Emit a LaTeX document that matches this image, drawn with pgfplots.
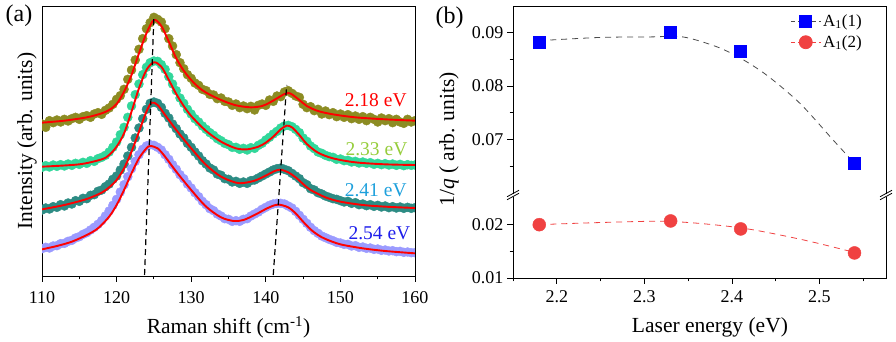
\documentclass[border=0pt]{standalone}
\usepackage{pgfplots}
\pgfplotsset{compat=1.18}
\usepackage{fontspec}
\setmainfont{Liberation Serif}
\usetikzlibrary{calc}

\definecolor{cOlive}{RGB}{140,140,35}
\definecolor{cMint}{RGB}{50,215,155}
\definecolor{cTeal}{RGB}{45,140,132}
\definecolor{cLilac}{RGB}{155,155,255}
\definecolor{tGreen}{RGB}{150,205,60}
\definecolor{tBlue}{RGB}{30,160,220}
\definecolor{tNavy}{RGB}{30,30,235}
\definecolor{ptRed}{RGB}{240,65,65}
\definecolor{fitRed}{RGB}{255,0,0}

\pgfplotsset{
  panel/.style={
    scale only axis,
    axis line style={line width=0.9pt},
    every tick/.style={black, line width=0.8pt},
    major tick length=6pt, minor tick length=3.5pt,
    tick align=outside,
    scaled ticks=false,
    tick label style={font=\fontsize{18}{20}\selectfont},
    label style={font=\fontsize{21.5}{24}\selectfont},
    /pgf/number format/assume math mode=true,
  },
  dots/.style={only marks, color=#1, mark=*, mark size=4.5pt,
    mark options={draw=none, fill=#1}},
  fitline/.style={draw=fitRed, line width=1.9pt, smooth, mark=none},
  leg/.style={legend image code/.code={
    \draw[##1, mark=none] (0pt,0pt) -- (30pt,0pt);
    \draw[##1, only marks] plot coordinates {(15pt,0pt)};}},
}

\begin{document}
\begin{tikzpicture}[x=1pt,y=1pt]
\useasboundingbox (0,0) rectangle (896,342);

% ---------- (a) spectra ----------
\begin{axis}[panel,
  clip marker paths=true,
  at={(42pt,66pt)}, anchor=south west,
  width=373pt, height=270pt,
  xmin=110, xmax=160, ymin=0, ymax=810,
  xtick={110,120,130,140,150,160},
  minor xtick={115,125,135,145,155},
  xtick pos=bottom, ytick=\empty,
  xticklabel style={yshift=-6pt},
  xlabel={Raman shift (cm\textsuperscript{-1})},
  ylabel={Intensity (arb. units)},
  xlabel style={at={(axis description cs:0.5,-0.19)}, anchor=center},
  ylabel style={at={(axis description cs:-0.04,0.5)}, anchor=center},
]
% 2.18 eV
\addplot[dots=cOlive] coordinates {
(110,456) (110.5,446) (111,466) (111.5,460) (112,468) (112.5,462) (113,470) (113.5,465) (114,472) (114.5,476)
(115,470) (115.5,478) (116,481) (116.5,476) (117,486) (117.5,490) (118,485) (118.5,497) (119,504) (119.5,515)
(120,530) (120.5,541) (121,560) (121.5,590) (122,618) (122.5,648) (123,680) (123.5,712) (124,742) (124.5,760)
(125,776) (125.5,770) (126,762) (126.5,742) (127,712) (127.5,690) (128,664) (128.5,640) (129,622) (129.5,604)
(130,593) (130.5,579) (131,572) (131.5,560) (132,556) (132.5,545) (133,543) (133.5,532) (134,534) (134.5,524)
(135,522) (135.5,512) (136,516) (136.5,505) (137,510) (137.5,502) (138,509) (138.5,498) (139,512) (139.5,516)
(140,512) (140.5,528) (141,524) (141.5,540) (142,538) (142.5,552) (143,556) (143.5,548) (144,540) (144.5,536)
(145,515) (145.5,505) (146,508) (146.5,496) (147,500) (147.5,486) (148,495) (148.5,484) (149,490) (149.5,478)
(150,486) (150.5,476) (151,484) (151.5,472) (152,480) (152.5,470) (153,478) (153.5,466) (154,476) (154.5,470)
(155,462) (155.5,474) (156,466) (156.5,472) (157,460) (157.5,470) (158,462) (158.5,458) (159,470) (159.5,462)
(160,466)};
% 2.33 eV
\addplot[dots=cMint] coordinates {
(110,326) (110.5,331) (111,327) (111.5,333) (112,329) (112.5,334) (113,330) (113.5,336) (114,332) (114.5,338)
(115,335) (115.5,341) (116,338) (116.5,346) (117,344) (117.5,352) (118,356) (118.5,362) (119,372) (119.5,386)
(120,402) (120.5,424) (121,446) (121.5,476) (122,510) (122.5,544) (123,576) (123.5,604) (124,626) (124.5,640)
(125,645) (125.5,644) (126,634) (126.5,620) (127,598) (127.5,576) (128,556) (128.5,534) (129,518) (129.5,500)
(130,486) (130.5,472) (131,462) (131.5,450) (132,440) (132.5,430) (133,422) (133.5,412) (134,406) (134.5,398)
(135,394) (135.5,386) (136,386) (136.5,380) (137,383) (137.5,378) (138,385) (138.5,383) (139,392) (139.5,398)
(140,408) (140.5,416) (141,426) (141.5,434) (142,444) (142.5,450) (143,452) (143.5,448) (144,440) (144.5,430)
(145,414) (145.5,404) (146,390) (146.5,382) (147,372) (147.5,368) (148,362) (148.5,358) (149,356) (149.5,350)
(150,351) (150.5,346) (151,347) (151.5,342) (152,344) (152.5,339) (153,342) (153.5,338) (154,340) (154.5,335)
(155,338) (155.5,334) (156,337) (156.5,333) (157,336) (157.5,332) (158,335) (158.5,331) (159,334) (159.5,332)
(160,333)};
% 2.41 eV
\addplot[dots=cTeal] coordinates {
(110,198) (110.5,204) (111,201) (111.5,208) (112,206) (112.5,214) (113,210) (113.5,219) (114,216) (114.5,226)
(115,224) (115.5,233) (116,232) (116.5,242) (117,244) (117.5,254) (118,258) (118.5,268) (119,276) (119.5,290)
(120,300) (120.5,318) (121,336) (121.5,360) (122,386) (122.5,414) (123,444) (123.5,472) (124,500) (124.5,518)
(125,522) (125.5,518) (126,506) (126.5,488) (127,474) (127.5,456) (128,442) (128.5,426) (129,414) (129.5,398)
(130,386) (130.5,372) (131,360) (131.5,346) (132,336) (132.5,324) (133,318) (133.5,306) (134,302) (134.5,292)
(135,290) (135.5,282) (136,284) (136.5,278) (137,282) (137.5,278) (138,286) (138.5,288) (139,294) (139.5,300)
(140,306) (140.5,312) (141,318) (141.5,322) (142,324) (142.5,320) (143,316) (143.5,308) (144,300) (144.5,292)
(145,280) (145.5,274) (146,262) (146.5,258) (147,250) (147.5,246) (148,240) (148.5,236) (149,232) (149.5,230)
(150,226) (150.5,222) (151,224) (151.5,218) (152,220) (152.5,214) (153,216) (153.5,211) (154,214) (154.5,209)
(155,212) (155.5,207) (156,210) (156.5,205) (157,208) (157.5,204) (158,207) (158.5,203) (159,206) (159.5,203)
(160,205)};
% 2.54 eV
\addplot[dots=cLilac] coordinates {
(110,82) (110.5,86) (111,84) (111.5,90) (112,91) (112.5,97) (113,98) (113.5,104) (114,107) (114.5,114)
(115,118) (115.5,125) (116,130) (116.5,138) (117,146) (117.5,155) (118,166) (118.5,180) (119,195) (119.5,212)
(120,230) (120.5,252) (121,274) (121.5,298) (122,322) (122.5,344) (123,364) (123.5,380) (124,390) (124.5,394)
(125,392) (125.5,386) (126,378) (126.5,364) (127,350) (127.5,334) (128,320) (128.5,304) (129,292) (129.5,276)
(130,264) (130.5,250) (131,238) (131.5,224) (132,214) (132.5,202) (133,196) (133.5,186) (134,180) (134.5,172)
(135,170) (135.5,164) (136,166) (136.5,164) (137,170) (137.5,172) (138,180) (138.5,186) (139,192) (139.5,200)
(140,206) (140.5,212) (141,216) (141.5,218) (142,218) (142.5,216) (143,210) (143.5,204) (144,194) (144.5,182)
(145,170) (145.5,158) (146,146) (146.5,136) (147,128) (147.5,120) (148,115) (148.5,110) (149,106) (149.5,101)
(150,99) (150.5,95) (151,95) (151.5,90) (152,91) (152.5,86) (153,87) (153.5,83) (154,84) (154.5,80)
(155,81) (155.5,77) (156,78) (156.5,75) (157,76) (157.5,73) (158,74) (158.5,71) (159,72) (159.5,70)
(160,70)};

% fitted curves
\addplot[fitline] coordinates {
(110,460) (113,466) (116,476) (118,488) (119,498) (120,516) (121,553) (122,603) (123,668) (124,728)
(125,768) (126,750) (127,703) (128,653) (129,616) (130,588) (131,566) (132,550) (134,528) (136,512)
(138,506) (139.5,510) (140.5,520) (141.5,533) (142.5,546) (143,549) (143.5,545) (144.5,528) (145.5,510)
(147,495) (149,485) (152,476) (156,470) (160,466)};
\addplot[fitline] coordinates {
(110,328) (115,335) (118,350) (119,363) (120,388) (121,428) (122,493) (123,563) (124,618) (125,641)
(126,628) (127,588) (128,546) (129,510) (130,480) (132,435) (134,403) (136,383) (137.5,380) (139,388)
(140,400) (141,418) (142,440) (142.8,451) (143.5,446) (144.5,423) (145.5,396) (147,370) (149,353)
(152,341) (156,335) (160,333)};
\addplot[fitline] coordinates {
(110,200) (113,213) (116,231) (118,250) (119,266) (120,288) (121,323) (122,373) (123,433) (124,493)
(124.7,520) (125.5,513) (126.5,483) (128,438) (130,383) (132,333) (134,298) (136,280) (137,279)
(138.5,286) (140,301) (141,313) (141.9,319) (143,311) (144,296) (145,276) (146,258) (148,236)
(150,223) (153,213) (156,208) (160,204)};
\addplot[fitline] coordinates {
(110,80) (112,90) (114,103) (116,123) (117.5,143) (119,178) (120,213) (121,258) (122,308) (123,353)
(124,383) (124.5,390) (125.5,383) (126.5,358) (128,313) (130,258) (132,208) (134,176) (135.7,165)
(137,168) (138.5,183) (140,201) (141,211) (141.8,214) (143,206) (144,188) (145,163) (146,140)
(147,123) (148,111) (150,95) (153,83) (156,75) (160,68)};

% peak guides
\addplot[black, line width=1.2pt, dash pattern=on 6pt off 4pt] coordinates {(123.75,3) (125.0,778)};
\addplot[black, line width=1.2pt, dash pattern=on 6pt off 4pt] coordinates {(141.0,3) (142.8,573)};

\node[anchor=east, inner sep=0, text=red, font=\fontsize{19.5}{22}\selectfont] at (axis cs:158.9,528) {2.18 eV};
\node[anchor=east, inner sep=0, text=tGreen, font=\fontsize{19.5}{22}\selectfont] at (axis cs:159.0,381) {2.33 eV};
\node[anchor=east, inner sep=0, text=tBlue, font=\fontsize{19.5}{22}\selectfont] at (axis cs:158.9,258) {2.41 eV};
\node[anchor=east, inner sep=0, text=tNavy, font=\fontsize{19.5}{22}\selectfont] at (axis cs:159.4,129) {2.54 eV};
\end{axis}

% ---------- (b) 1/q ----------
% upper segment shifted down by 0.034 so both parts share one axis
\begin{axis}[panel, leg,
  at={(513pt,64pt)}, anchor=south west,
  width=373pt, height=272pt,
  xmin=2.15, xmax=2.576, ymin=0.01, ymax=0.061,
  xtick={2.2,2.3,2.4,2.5}, xticklabels={2.2,2.3,2.4,2.5},
  minor xtick={2.15,2.25,2.35,2.45,2.55},
  ytick={0.01,0.02,0.036,0.046,0.056},
  yticklabels={0.01,0.02,0.07,0.08,0.09},
  minor ytick={0.015,0.031,0.041,0.051},
  xtick pos=bottom, ytick pos=left,
  xticklabel style={yshift=-3pt},
  xlabel={Laser energy (eV)},
  ylabel={1/\textit{q} ( arb. units)},
  xlabel style={at={(axis description cs:0.528,-0.18)}, anchor=center},
  ylabel style={at={(axis description cs:-0.172,0.51)}, anchor=center},
  legend style={at={(rel axis cs:0.735,0.985)}, anchor=north west, draw=none, fill=none,
    font=\fontsize{17}{19}\selectfont, row sep=4pt},
  legend cell align=left,
]
\addplot[gray!60!black, line width=0.8pt, dash pattern=on 6pt off 5pt, smooth, forget plot] coordinates {
(2.18,0.0545) (2.249,0.0551) (2.306,0.0552) (2.344,0.0552) (2.382,0.0534) (2.41,0.0512)
(2.44,0.0480) (2.478,0.0427) (2.516,0.0358) (2.54,0.0315)};
\addplot[ptRed, line width=0.8pt, dash pattern=on 6pt off 5pt, smooth, forget plot] coordinates {
(2.18,0.0200) (2.25,0.0204) (2.33,0.0206) (2.41,0.0194) (2.48,0.0172) (2.54,0.0148)};
\addplot[only marks, mark=square*, mark size=6pt, mark options={fill=blue, draw=blue}, forget plot] coordinates {
(2.18,0.0543) (2.33,0.0561) (2.41,0.0526) (2.54,0.0315)};
\addplot[only marks, mark=*, mark size=6.5pt, mark options={fill=ptRed, draw=ptRed}, forget plot] coordinates {
(2.18,0.0200) (2.33,0.0207) (2.41,0.0192) (2.54,0.0147)};
\addlegendimage{gray!60!black, line width=0.8pt, dash pattern=on 4pt off 3pt, mark=square*, mark size=6pt, mark options={solid, fill=blue, draw=blue}}
\addlegendentry{A\textsubscript{1}(1)}
\addlegendimage{ptRed, line width=0.8pt, dash pattern=on 4pt off 3pt, mark=*, mark size=6.5pt, mark options={solid, fill=ptRed, draw=ptRed}}
\addlegendentry{A\textsubscript{1}(2)}

\coordinate (bl) at (axis cs:2.15,0.0257);
\coordinate (br) at (axis cs:2.576,0.0257);
\end{axis}

\foreach \p in {bl,br} {
  \fill[white] ($(\p)+(-2pt,-2.6pt)$) rectangle ($(\p)+(2pt,0.6pt)$);
  \draw[line width=0.8pt] ($(\p)+(-6pt,-2.5pt)$) -- ($(\p)+(6pt,4pt)$);
  \draw[line width=0.8pt] ($(\p)+(-6pt,-5.5pt)$) -- ($(\p)+(6pt,1pt)$);
}

\node[font=\fontsize{24}{26}\selectfont, inner sep=0] at (19,326) {(a)};
\node[font=\fontsize{24}{26}\selectfont, inner sep=0] at (449.5,324.5) {(b)};
\end{tikzpicture}
\end{document}
